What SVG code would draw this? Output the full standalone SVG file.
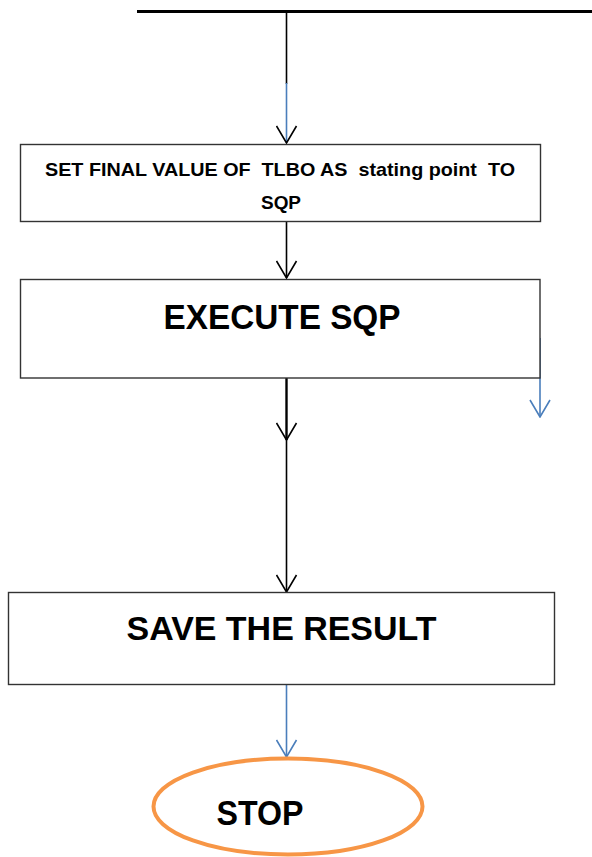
<svg xmlns="http://www.w3.org/2000/svg" width="592" height="857" viewBox="0 0 592 857">
<defs>
<style>
.box{fill:#fff;stroke:#333;stroke-width:1.4}
.t{font-family:"Liberation Sans",Arial,sans-serif;font-weight:bold;fill:#000;white-space:pre}
.k{fill:none;stroke:#000;stroke-width:1.6}
.kb{fill:none;stroke:#000;stroke-width:2.4}
.b{fill:none;stroke:#4a7ebb;stroke-width:1.6}
</style>
<marker id="ak" viewBox="-1 -11 19 22" refX="17" refY="0" markerWidth="19" markerHeight="22" markerUnits="userSpaceOnUse" orient="auto">
<path d="M0,-10 L17,0 L0,10" fill="none" stroke="#000" stroke-width="1.6"/>
</marker>
<marker id="ab" viewBox="-1 -11 19 22" refX="17" refY="0" markerWidth="19" markerHeight="22" markerUnits="userSpaceOnUse" orient="auto">
<path d="M0,-10 L17,0 L0,10" fill="none" stroke="#4a7ebb" stroke-width="1.6"/>
</marker>
</defs>
<rect width="592" height="857" fill="#fff"/>
<g id="connectors">
<line x1="137" y1="11.5" x2="592" y2="11.5" stroke="#000" stroke-width="3"/>
<line class="k" x1="286.5" y1="11" x2="286.5" y2="84"/>
<line class="b" x1="286.5" y1="83" x2="286.5" y2="143" marker-end="url(#ak)"/>
<line class="k" x1="286.5" y1="222" x2="286.5" y2="278" marker-end="url(#ak)"/>
<line class="kb" x1="286.5" y1="378" x2="286.5" y2="440" marker-end="url(#ak)"/>
<line class="k" x1="286.5" y1="440" x2="286.5" y2="592" marker-end="url(#ak)"/>
<line class="b" x1="540" y1="338" x2="540" y2="417" marker-end="url(#ab)"/>
<line class="b" x1="286.5" y1="685" x2="286.5" y2="757" marker-end="url(#ab)"/>
</g>
<g id="node-set-final">
<rect class="box" x="20.5" y="144.5" width="520" height="77"/>
<text class="t" x="45" y="176" font-size="19" textLength="470" lengthAdjust="spacingAndGlyphs">SET FINAL VALUE OF  TLBO AS  stating point  TO</text>
<text class="t" x="261" y="209" font-size="19" textLength="40" lengthAdjust="spacingAndGlyphs">SQP</text>
</g>
<g id="node-execute">
<rect class="box" x="20.5" y="279.5" width="519.5" height="98.5"/>
<text class="t" x="163.5" y="328.5" font-size="35" textLength="237" lengthAdjust="spacingAndGlyphs">EXECUTE SQP</text>
</g>
<g id="node-save">
<rect class="box" x="8.5" y="592.5" width="546" height="92"/>
<text class="t" x="126.5" y="640" font-size="33" textLength="310" lengthAdjust="spacingAndGlyphs">SAVE THE RESULT</text>
</g>
<g id="node-stop">
<ellipse cx="288" cy="806.5" rx="134.5" ry="48" fill="#fff" stroke="#f79646" stroke-width="4"/>
<text class="t" x="216.5" y="825" font-size="35" textLength="87" lengthAdjust="spacingAndGlyphs">STOP</text>
</g>
</svg>
